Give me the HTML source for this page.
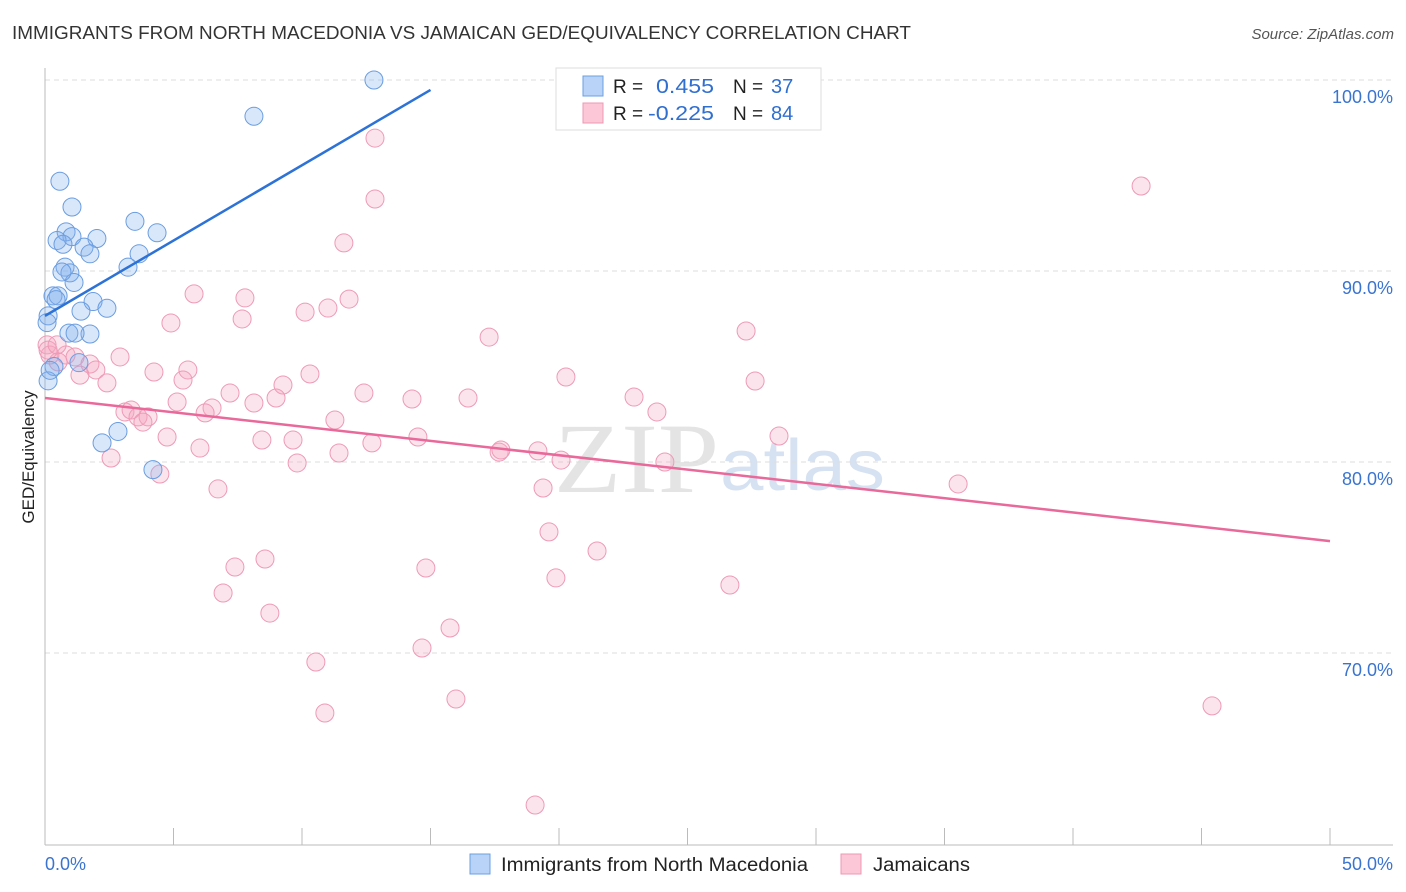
<!DOCTYPE html>
<html><head><meta charset="utf-8"><style>
body{margin:0;background:#fff;font-family:"Liberation Sans",sans-serif}
</style></head><body>
<svg id="c" width="1406" height="892" style="display:block">
<text x="12" y="39" font-size="18" fill="#333" textLength="899" lengthAdjust="spacingAndGlyphs">IMMIGRANTS FROM NORTH MACEDONIA VS JAMAICAN GED/EQUIVALENCY CORRELATION CHART</text>
<text x="1394" y="39" font-size="15" fill="#555" text-anchor="end" font-style="italic">Source: ZipAtlas.com</text>
<text x="0" y="0" transform="translate(34,457) rotate(-90)" font-size="17" fill="#222" text-anchor="middle">GED/Equivalency</text>
<text x="554" y="492" font-size="100" fill="#e4e4e4" textLength="165" lengthAdjust="spacingAndGlyphs" font-family="Liberation Serif">ZIP</text>
<text x="720" y="490" font-size="72" fill="#d6e2f2" textLength="165" lengthAdjust="spacingAndGlyphs">atlas</text>
<g id="grid"></g><g id="pts"></g><g id="lines"></g>
<g>
<rect x="556" y="68" width="265" height="62" fill="#fff" stroke="#ddd"/>
<rect x="583" y="76" width="20" height="20" fill="#b8d3f7" stroke="#6a9fe0"/>
<rect x="583" y="103" width="20" height="20" fill="#fcc8d8" stroke="#ee98b4"/>
<text x="613" y="93" font-size="19" fill="#222">R = </text><text x="656" y="93" font-size="20" fill="#2f6fd0" textLength="58" lengthAdjust="spacingAndGlyphs">0.455</text>
<text x="733" y="93" font-size="19" fill="#222">N = </text><text x="771" y="93" font-size="20" fill="#2f6fd0">37</text>
<text x="613" y="120" font-size="19" fill="#222">R = </text><text x="648" y="120" font-size="20" fill="#2f6fd0" textLength="66" lengthAdjust="spacingAndGlyphs">-0.225</text>
<text x="733" y="120" font-size="19" fill="#222">N = </text><text x="771" y="120" font-size="20" fill="#2f6fd0">84</text>
</g>
<g>
<rect x="470" y="854" width="20" height="20" fill="#b8d3f7" stroke="#6a9fe0"/>
<text x="501" y="871" font-size="19" fill="#222" textLength="307" lengthAdjust="spacingAndGlyphs">Immigrants from North Macedonia</text>
<rect x="841" y="854" width="20" height="20" fill="#fcc8d8" stroke="#ee98b4"/>
<text x="873" y="871" font-size="19" fill="#222" textLength="97" lengthAdjust="spacingAndGlyphs">Jamaicans</text>
</g>
</svg>
<script>
const blueX=[12.8,8.13,0.58,1.05,3.5,4.36,0.82,1.05,0.47,2.02,0.7,1.52,1.75,3.66,3.23,0.78,0.97,1.13,0.31,0.51,1.87,2.41,1.4,0.12,0.08,0.93,1.75,1.32,0.35,0.12,2.84,2.22,4.2,1.17,0.2,0.66,0.43];
const blueY=[100,98.1,94.7,93.35,92.6,92.0,92.05,91.8,91.6,91.7,91.4,91.25,90.9,90.9,90.2,90.2,89.9,89.4,88.7,88.7,88.4,88.05,87.9,87.65,87.3,86.75,86.7,85.2,85.0,84.25,81.6,81.0,79.6,86.75,84.8,89.95,88.5];
const pinkX=[12.84,42.65,12.84,11.63,5.8,7.78,11.83,10.12,11.01,7.67,4.9,17.28,27.28,0.08,0.19,0.82,1.17,0.51,1.75,2.92,1.98,1.36,2.41,4.24,5.56,5.37,10.31,9.26,7.2,12.41,14.28,16.46,20.27,22.92,27.63,5.14,6.5,8.13,8.99,6.23,3.11,3.35,3.62,4.01,3.81,11.28,23.81,4.75,8.44,9.65,14.51,28.56,6.03,11.44,12.72,17.67,17.74,19.18,20.08,24.12,2.57,9.81,4.47,6.73,19.38,35.53,19.61,21.48,7.39,8.56,14.82,19.88,26.65,6.93,8.75,15.76,14.67,10.54,45.41,15.99,10.89,19.07,0.12,0.47];
const pinkY=[96.96,94.45,93.77,91.47,88.8,88.59,88.53,87.85,88.06,87.49,87.28,86.54,86.86,86.13,85.6,85.6,85.5,85.24,85.13,85.5,84.82,84.55,84.14,84.71,84.82,84.29,84.61,84.03,83.61,83.61,83.3,83.35,84.45,83.4,84.24,83.14,82.83,83.09,83.35,82.57,82.62,82.72,82.36,82.36,82.09,82.2,82.62,81.31,81.15,81.15,81.31,81.36,80.73,80.47,81.0,80.52,80.63,80.58,80.1,80.0,80.21,79.95,79.37,78.59,78.64,78.85,76.34,75.34,74.5,74.92,74.45,73.93,73.56,73.14,72.09,71.31,70.26,69.53,67.23,67.59,66.86,62.04,85.86,86.13];
const yTicks=[100,90,80,70];
const yTickLabels=["100.0%","90.0%","80.0%","70.0%"];
const blueTrend=[0,87.65,15,99.48];
const pinkTrend=[0,83.35,50,75.86];
const NS="http://www.w3.org/2000/svg";
const sx=v=>45+v*25.7, sy=v=>80+(100-v)*19.1;
function mk(t,a,p){const e=document.createElementNS(NS,t);for(const k in a)e.setAttribute(k,a[k]);p.appendChild(e);return e;}
const g=document.getElementById('grid');
yTicks.forEach((t,i)=>{
 const l=mk('line',{x1:45,x2:1393,y1:sy(t),y2:sy(t),stroke:'#ddd','stroke-dasharray':'5,4'},g);
 
 
 const tx=mk('text',{x:1393,y:sy(t)+23,'font-size':18,fill:'#3a74d0','text-anchor':'end'},g);
 tx.textContent=yTickLabels[i];
 
 
});
const ax=mk('line',{x1:45,x2:45,y1:68,y2:845,stroke:'#bbb'},g);


const bx=mk('line',{x1:45,x2:1393,y1:845,y2:845,stroke:'#bbb'},g);


for(let i=0;i<=10;i++){const t=mk('line',{x1:sx(i*5),x2:sx(i*5),y1:828,y2:845,stroke:'#bbb'},g);
 
 }
const x0=mk('text',{x:45,y:870,'font-size':18,fill:'#3a74d0'},g);x0.textContent='0.0%';


const x1=mk('text',{x:1393,y:870,'font-size':18,fill:'#3a74d0','text-anchor':'end'},g);x1.textContent='50.0%';


const P=document.getElementById('pts');
pinkX.forEach((x,i)=>{const c=mk('circle',{cx:sx(x),cy:sy(pinkY[i]),r:9,fill:'rgba(246,165,192,0.3)',stroke:'#ee9ab7','stroke-width':1},P);
 
 });
blueX.forEach((x,i)=>{const c=mk('circle',{cx:sx(x),cy:sy(blueY[i]),r:9,fill:'rgba(130,176,238,0.3)',stroke:'#6a9de0','stroke-width':1},P);
 
 });
const L=document.getElementById('lines');
const bl=mk('line',{x1:sx(blueTrend[0]),y1:sy(blueTrend[1]),x2:sx(blueTrend[2]),y2:sy(blueTrend[3]),stroke:'#2d72d6','stroke-width':2.5},L);


const pl=mk('line',{x1:sx(pinkTrend[0]),y1:sy(pinkTrend[1]),x2:sx(pinkTrend[2]),y2:sy(pinkTrend[3]),stroke:'#e8699a','stroke-width':2.5},L);


</script>
</body></html>
